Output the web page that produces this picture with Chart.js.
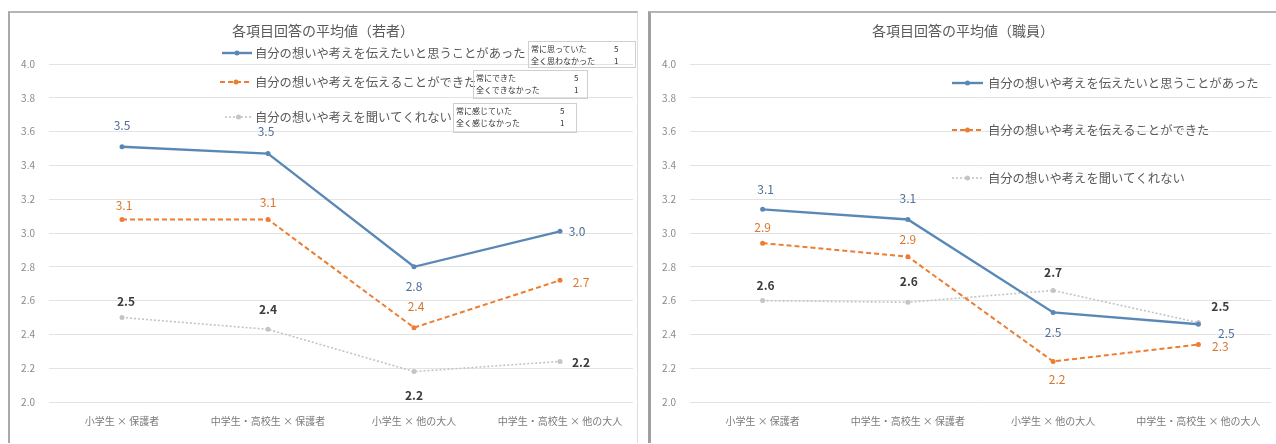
<!DOCTYPE html>
<html lang="ja">
<head>
<meta charset="utf-8">
<script src="https://cdn.jsdelivr.net/npm/chart.js@4"></script>
<style>
  html,body{margin:0;padding:0;background:#fff;}
  body{width:1276px;height:444px;position:relative;overflow:hidden;font-family:"Noto Sans CJK JP","Noto Sans",sans-serif;}
  .box{position:absolute;box-sizing:border-box;}
  #boxL{left:8px;top:11px;width:630px;height:432px;border-left:2px solid #a9a9a9;border-top:2px solid #b5b5b5;border-right:1px solid #dedede;}
  #boxR{left:648px;top:11px;width:628px;height:432px;border-left:3px solid #a0a0a0;border-top:2px solid #b5b5b5;}
  canvas{position:absolute;}
  #cL{left:9px;top:12px;}
  #cR{left:649px;top:12px;}
  .note{position:absolute;box-sizing:border-box;border:1px solid #cfcfcf;background:transparent;font-size:8px;color:#333;line-height:12px;padding:1px 0 0 2px;}
  .note div{position:relative;white-space:nowrap;}
  .note span.n{position:absolute;top:0;}
</style>
</head>
<body>
<div class="box" id="boxL"></div>
<div class="box" id="boxR"></div>
<canvas id="cL" width="628" height="428"></canvas>
<canvas id="cR" width="626" height="428"></canvas>
<div id="notes"></div>
<script>
// ---------- data ----------
const categories = ['小学生 × 保護者', '中学生・高校生 × 保護者', '小学生 × 他の大人', '中学生・高校生 × 他の大人'];
const seriesNames = ['自分の想いや考えを伝えたいと思うことがあった', '自分の想いや考えを伝えることができた', '自分の想いや考えを聞いてくれない'];
const titleYouth = '各項目回答の平均値（若者）';
const titleStaff = '各項目回答の平均値（職員）';

const youthWant  = [3.51, 3.47, 2.80, 3.01];
const youthAble  = [3.08, 3.08, 2.44, 2.72];
const youthHeard = [2.50, 2.43, 2.18, 2.24];

const staffWant  = [3.14, 3.08, 2.53, 2.46];
const staffAble  = [2.94, 2.86, 2.24, 2.34];
const staffHeard = [2.60, 2.59, 2.66, 2.47];

const yMin = 2.0, yMax = 4.0, yStep = 0.2;

const noteTop = ['常に思っていた', '常にできた', '常に感じていた'];
const noteBottom = ['全く思わなかった', '全くできなかった', '全く感じなかった'];
const noteHigh = ['5', '5', '5'];
const noteLow = ['1', '1', '1'];

// ---------- styles ----------
const FONT = '"Noto Sans CJK JP","Noto Sans",sans-serif';
const seriesStyle = [
  {color:'#5a88b5', width:2.4, dash:[], labelColor:'#4d6f99'},
  {color:'#ed7d31', width:2, dash:[5,3], labelColor:'#d9762c'},
  {color:'#c4c4c4', width:1.6, dash:[2,2], labelColor:'#3c3c3c'}
];

function makeDatasets(arrs){
  return arrs.map((d,i)=>({
    label: seriesNames[i],
    data: d,
    borderColor: seriesStyle[i].color,
    backgroundColor: seriesStyle[i].color,
    borderWidth: seriesStyle[i].width,
    borderDash: seriesStyle[i].dash,
    pointRadius: 2.5,
    pointBorderWidth: 0,
    pointBackgroundColor: seriesStyle[i].color,
    tension: 0,
    clip: false
  }));
}

const decoPlugin = {
  id: 'deco',
  afterDatasetsDraw(chart, args, opts){
    const ctx = chart.ctx;
    // data labels
    chart.data.datasets.forEach((ds,i)=>{
      const meta = chart.getDatasetMeta(i);
      meta.data.forEach((pt,j)=>{
        const off = opts.labelOffsets[i][j];
        ctx.save();
        ctx.font = (i===2?'600 ':'') + '12px ' + FONT;
        ctx.fillStyle = seriesStyle[i].labelColor;
        ctx.textAlign = 'center';
        ctx.textBaseline = 'middle';
        ctx.fillText(ds.data[j].toFixed(1), pt.x + off[0], pt.y + off[1]);
        ctx.restore();
      });
    });
    // title
    ctx.save();
    ctx.font = '14px ' + FONT;
    ctx.fillStyle = '#595959';
    ctx.textAlign = 'center';
    ctx.textBaseline = 'middle';
    ctx.fillText(opts.title, opts.titlePos[0], opts.titlePos[1]);
    ctx.restore();
    // legend
    chart.data.datasets.forEach((ds,i)=>{
      const L = opts.legend[i];
      const st = seriesStyle[i];
      ctx.save();
      ctx.strokeStyle = st.color;
      ctx.lineWidth = st.width;
      ctx.setLineDash(st.dash);
      ctx.beginPath();
      ctx.moveTo(L.x1, L.y);
      ctx.lineTo(L.x2, L.y);
      ctx.stroke();
      ctx.setLineDash([]);
      ctx.fillStyle = st.color;
      ctx.beginPath();
      ctx.arc((L.x1+L.x2)/2, L.y, 2.5, 0, Math.PI*2);
      ctx.fill();
      ctx.font = '12.3px ' + FONT;
      ctx.fillStyle = '#595959';
      ctx.textAlign = 'left';
      ctx.textBaseline = 'middle';
      ctx.fillText(ds.label, L.tx, L.y);
      ctx.restore();
    });
  }
};

function makeChart(id, arrs, deco, padRight, yWidth){
  return new Chart(document.getElementById(id), {
    type: 'line',
    data: { labels: categories, datasets: makeDatasets(arrs) },
    options: {
      responsive: false,
      animation: false,
      layout: { padding: { left: 0, right: padRight, top: 52, bottom: 0 } },
      plugins: { legend: { display: false }, title: { display: false }, tooltip: { enabled: false }, deco: deco },
      scales: {
        x: {
          offset: true,
          grid: { display: false, drawTicks: false },
          border: { display: false },
          ticks: { padding: 13, maxRotation: 0, autoSkip: false, color: '#7a7a7a', font: { family: FONT, size: 10 } },
          afterFit(a){ a.height = 38; }
        },
        y: {
          min: yMin, max: yMax,
          grid: { color: '#e3e3e3', lineWidth: 1, drawTicks: false },
          border: { display: false },
          ticks: { stepSize: yStep, padding: 14, color: '#8a8a8a', font: { family: FONT, size: 10 },
                   callback: v => Number(v).toFixed(1) },
          afterFit(a){ a.width = yWidth; }
        }
      }
    },
    plugins: [decoPlugin]
  });
}

makeChart('cL', [youthWant, youthAble, youthHeard], {
  title: titleYouth, titlePos: [314, 19],
  legend: [
    {x1: 213, x2: 243, y: 41, tx: 246},
    {x1: 211, x2: 243, y: 70, tx: 246},
    {x1: 216, x2: 243, y: 105, tx: 246}
  ],
  labelOffsets: [
    [[0,-21],[-2,-22],[0,20],[17,0]],
    [[2,-14],[0,-17],[2,-21],[21,2]],
    [[4,-16],[0,-20],[0,24],[21,1]]
  ]
}, 3, 40);

makeChart('cR', [staffWant, staffAble, staffHeard], {
  title: titleStaff, titlePos: [314, 19],
  legend: [
    {x1: 303, x2: 334, y: 71, tx: 339},
    {x1: 303, x2: 334, y: 118, tx: 339},
    {x1: 303, x2: 334, y: 166, tx: 339}
  ],
  labelOffsets: [
    [[3,-20],[0,-21],[0,20],[28,9]],
    [[0,-16],[0,-17],[4,18],[22,2]],
    [[3,-15],[1,-21],[0,-18],[22,-16]]
  ]
}, 2, 41);

// scale notes (left chart)
const notePos = [
  {left:528, top:41, width:108, height:27, num:85},
  {left:473, top:70, width:115, height:29, num:100},
  {left:453, top:103, width:124, height:30, num:106}
];
const notesEl = document.getElementById('notes');
notePos.forEach((p,i)=>{
  const d = document.createElement('div');
  d.className = 'note';
  d.style.left = p.left+'px'; d.style.top = p.top+'px';
  d.style.width = p.width+'px'; d.style.height = p.height+'px';
  const r1 = document.createElement('div');
  r1.textContent = noteTop[i];
  const n1 = document.createElement('span'); n1.className='n'; n1.textContent = noteHigh[i]; n1.style.left = (p.num-2)+'px';
  r1.appendChild(n1);
  const r2 = document.createElement('div');
  r2.textContent = noteBottom[i];
  const n2 = document.createElement('span'); n2.className='n'; n2.textContent = noteLow[i]; n2.style.left = (p.num-2)+'px';
  r2.appendChild(n2);
  d.appendChild(r1); d.appendChild(r2);
  notesEl.appendChild(d);
});
</script>
</body>
</html>
